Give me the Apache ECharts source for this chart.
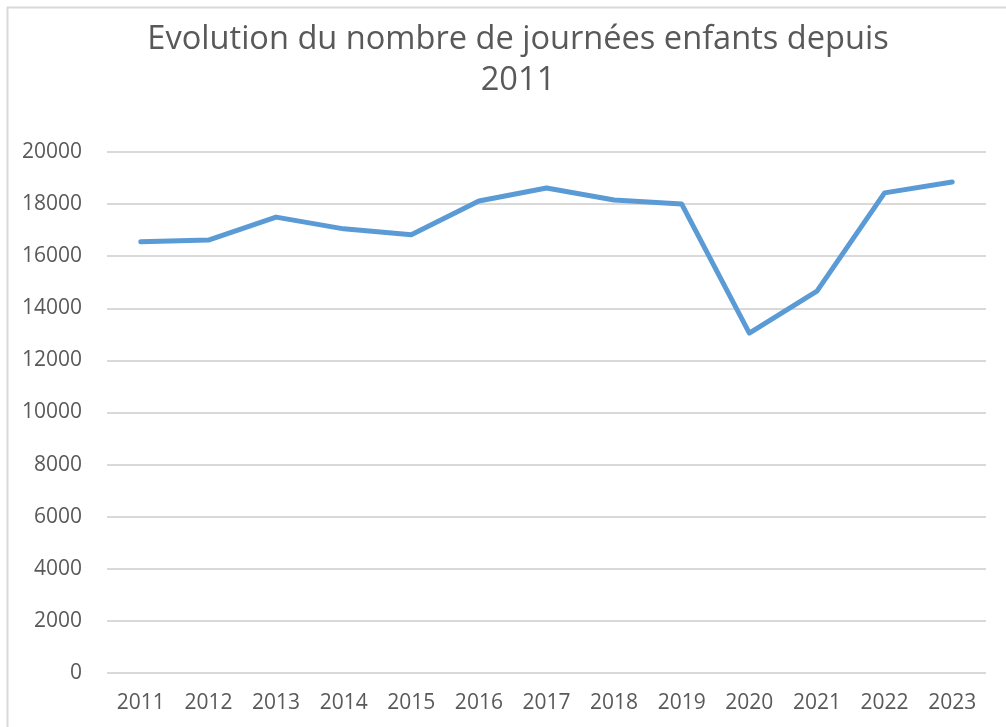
<!DOCTYPE html>
<html>
<head>
<meta charset="utf-8">
<script src="https://cdn.jsdelivr.net/npm/echarts@6/dist/echarts.min.js"></script>
<style>html,body{margin:0;padding:0;background:#fff;}#c{width:1006px;height:727px;}</style>
</head>
<body>
<div id="c"></div>
<script>
const titleText = "Evolution du nombre de journées enfants depuis\n2011";
const years = ["2011","2012","2013","2014","2015","2016","2017","2018","2019","2020","2021","2022","2023"];
const journees = [16550, 16620, 17500, 17050, 16820, 18120, 18620, 18160, 18000, 13050, 14660, 18430, 18850];
const yMin = 0, yMax = 20000, yStep = 2000;

const chart = echarts.init(document.getElementById('c'), null, {renderer: 'canvas'});
chart.setOption({
  backgroundColor: '#ffffff',
  animation: false,
  title: {
    text: titleText,
    left: 513, top: 14, textAlign: 'center',
    textStyle: {fontFamily: 'Open Sans', fontWeight: 'normal', fontSize: 32.6, color: '#595959', lineHeight: 41}
  },
  graphic: [
    {type: 'line', shape: {x1: 7, y1: 7.5, x2: 1006, y2: 7.5}, style: {stroke: '#d9d9d9', lineWidth: 2}, silent: true},
    {type: 'line', shape: {x1: 7.5, y1: 7, x2: 7.5, y2: 727}, style: {stroke: '#d9d9d9', lineWidth: 2}, silent: true}
  ],
  grid: {left: 107, right: 20, top: 152, bottom: 54, containLabel: false},
  xAxis: {
    type: 'category', data: years, boundaryGap: true,
    axisLine: {show: false}, axisTick: {show: false},
    axisLabel: {color: '#595959', fontFamily: 'Open Sans', fontSize: 21, margin: 20}
  },
  yAxis: {
    type: 'value', min: yMin, max: yMax, interval: yStep,
    axisLine: {show: false}, axisTick: {show: false},
    splitLine: {lineStyle: {color: '#d9d9d9', width: 2}},
    axisLabel: {color: '#595959', fontFamily: 'Open Sans', fontSize: 21, margin: 25, formatter: v => String(v)}
  },
  series: [{
    type: 'line', data: journees, symbol: 'none',
    lineStyle: {color: '#5b9bd5', width: 5, cap: 'round', join: 'round'},
    itemStyle: {color: '#5b9bd5'}
  }]
});
</script>
</body>
</html>
